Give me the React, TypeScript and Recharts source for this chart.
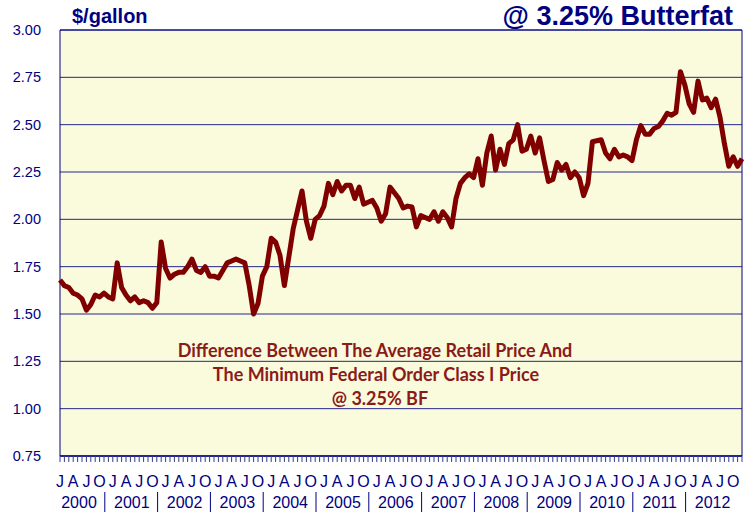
import React from "react";
import {
  LineChart,
  Line,
  XAxis,
  YAxis,
  CartesianGrid,
  ReferenceArea,
} from "recharts";

const NAVY = "#000080";
const MAROON = "#800000";

const years = [2000, 2001, 2002, 2003, 2004, 2005, 2006, 2007, 2008, 2009, 2010, 2011, 2012];
const quarterLetters = ["J", "A", "J", "O"];
const yTicks = [0.75, 1.0, 1.25, 1.5, 1.75, 2.0, 2.25, 2.5, 2.75, 3.0];

// retail minus class I price, $/gallon, Jan..Dec
const spread2000 = [1.68, 1.65, 1.64, 1.61, 1.6, 1.58, 1.52, 1.55, 1.6, 1.59, 1.61, 1.59];
const spread2001 = [1.58, 1.77, 1.64, 1.6, 1.57, 1.59, 1.56, 1.57, 1.56, 1.53, 1.56, 1.88];
const spread2002 = [1.74, 1.69, 1.71, 1.72, 1.72, 1.75, 1.79, 1.73, 1.72, 1.75, 1.7, 1.7];
const spread2003 = [1.69, 1.73, 1.77, 1.78, 1.79, 1.78, 1.77, 1.65, 1.5, 1.555, 1.7, 1.75];
const spread2004 = [1.9, 1.88, 1.81, 1.65, 1.8, 1.95, 2.05, 2.15, 1.99, 1.9, 2.0, 2.02];
const spread2005 = [2.07, 2.19, 2.13, 2.2, 2.15, 2.18, 2.18, 2.11, 2.17, 2.08, 2.09, 2.1];
const spread2006 = [2.06, 1.99, 2.03, 2.17, 2.14, 2.11, 2.06, 2.07, 2.065, 1.96, 2.02, 2.01];
const spread2007 = [2.0, 2.04, 1.99, 2.04, 2.01, 1.96, 2.11, 2.19, 2.22, 2.24, 2.22, 2.32];
const spread2008 = [2.18, 2.35, 2.44, 2.26, 2.37, 2.29, 2.4, 2.42, 2.5, 2.36, 2.37, 2.44];
const spread2009 = [2.35, 2.43, 2.31, 2.2, 2.21, 2.3, 2.26, 2.29, 2.22, 2.25, 2.22, 2.125];
const spread2010 = [2.19, 2.41, 2.415, 2.42, 2.35, 2.32, 2.37, 2.33, 2.34, 2.33, 2.31, 2.42];
const spread2011 = [2.495, 2.45, 2.45, 2.48, 2.49, 2.52, 2.56, 2.55, 2.565, 2.78, 2.71, 2.61];
const spread2012 = [2.565, 2.73, 2.63, 2.64, 2.59, 2.635, 2.54, 2.4, 2.28, 2.33, 2.28, 2.32];

const spreadByYear = [
  spread2000, spread2001, spread2002, spread2003, spread2004, spread2005, spread2006,
  spread2007, spread2008, spread2009, spread2010, spread2011, spread2012,
];

const data = spreadByYear.flatMap((vals, y) =>
  vals.map((v, m) => ({ idx: y * 12 + m, spread: v }))
);
const monthTicks = data.map((d) => d.idx);
const lastIdx = monthTicks[monthTicks.length - 1];

const MonthTick = (props: any) => {
  const { x, y, payload } = props;
  const i = payload.value as number;
  const m = i % 12;
  const yr = years[Math.floor(i / 12)];
  return (
    <g>
      <line x1={x} y1={y} x2={x} y2={y + 6} stroke="#3a3a8a" strokeWidth={1} />
      {m % 3 === 0 && (
        <text x={x} y={y + 31} textAnchor="middle" fontSize={16} fill={NAVY}>
          {quarterLetters[m / 3]}
        </text>
      )}
      {m === 0 && (
        <text x={x + 19} y={y + 52} textAnchor="middle" fontSize={16} fill={NAVY}>
          {yr}
        </text>
      )}
      {m === 0 && i > 0 && (
        <line x1={x - 8} y1={y + 36} x2={x - 8} y2={y + 56} stroke={NAVY} strokeWidth={1} />
      )}
    </g>
  );
};

export default function App() {
  return (
    <div
      style={{
        position: "absolute",
        left: 0,
        top: 0,
        width: 755,
        height: 514,
        background: "#ffffff",
        fontFamily: "'Liberation Sans', Arial, sans-serif",
        overflow: "hidden",
      }}
    >
      <LineChart
        width={755}
        height={514}
        data={data}
        margin={{ top: 30, right: 13, bottom: 0, left: 0 }}
      >
        <CartesianGrid
          horizontal={true}
          vertical={false}
          stroke={NAVY}
          strokeOpacity={0.85}
          fill="#FAFADC"
          fillOpacity={1}
        />
        <XAxis
          dataKey="idx"
          type="number"
          domain={[0, lastIdx]}
          ticks={monthTicks}
          interval={0}
          height={58}
          tickSize={0}
          tickMargin={0}
          tickLine={false}
          axisLine={{ stroke: NAVY }}
          tick={<MonthTick />}
        />
        <YAxis
          type="number"
          domain={[0.75, 3]}
          ticks={yTicks}
          width={60}
          axisLine={false}
          tickLine={false}
          tickSize={6}
          tickMargin={13}
          tickFormatter={(v: number) => v.toFixed(2)}
          tick={{ fill: NAVY, fontSize: 14.5 }}
        />
        <ReferenceArea
          x1={0}
          x2={lastIdx}
          y1={0.75}
          y2={3}
          fill="none"
          fillOpacity={0}
          stroke={NAVY}
          strokeWidth={1}
        />
        <Line
          type="linear"
          dataKey="spread"
          stroke={MAROON}
          strokeWidth={5}
          strokeLinejoin="round"
          dot={false}
          activeDot={false}
          isAnimationActive={false}
        />
      </LineChart>
      <svg
        width={755}
        height={514}
        style={{ position: "absolute", left: 0, top: 0, pointerEvents: "none" }}
      >
        <text x={72} y={23} fontSize={20} fontWeight="bold" fill={NAVY}>
          $/gallon
        </text>
        <text x={733} y={25} fontSize={27} fontWeight="bold" fill={NAVY} textAnchor="end">
          @ 3.25% Butterfat
        </text>
        <g
          fontFamily="Lato, 'Open Sans', sans-serif"
          fontWeight="bold"
          fontSize={18}
          fill="#8B1A1A"
          textAnchor="middle"
        >
          <text x={375} y={357}>Difference Between The Average Retail Price And</text>
          <text x={376} y={381}>The Minimum Federal Order Class I Price</text>
          <text x={380} y={405}>@ 3.25% BF</text>
        </g>
      </svg>
    </div>
  );
}
